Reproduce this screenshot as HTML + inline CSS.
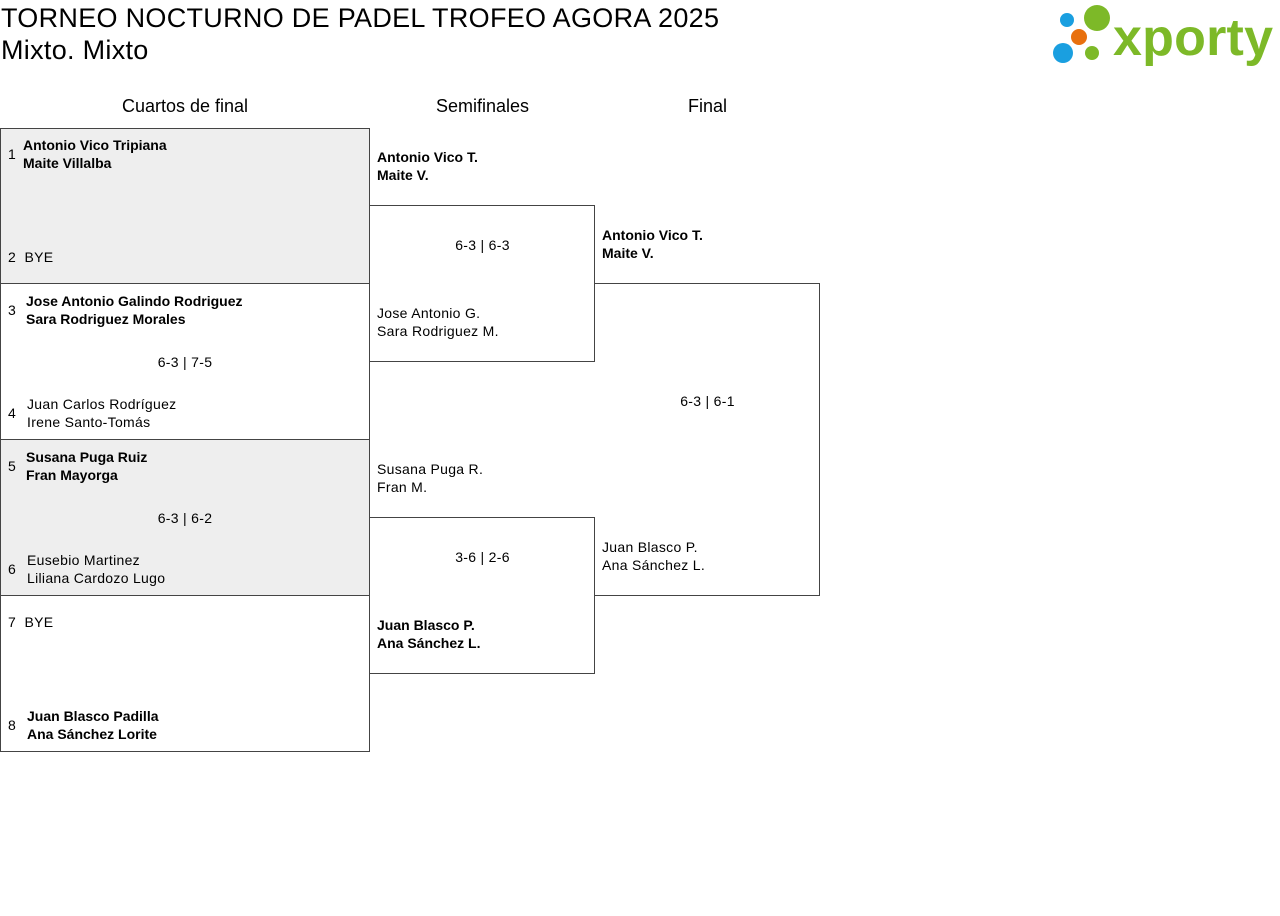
<!DOCTYPE html>
<html><head><meta charset="utf-8"><style>
body{margin:0;width:1280px;height:916px;background:#fff;font-family:"Liberation Sans",sans-serif;color:#000;position:relative;overflow:hidden}
.a{position:absolute;white-space:nowrap}
.box{position:absolute;border:1px solid #444;box-sizing:border-box}
.t{font-size:14px;line-height:18px;letter-spacing:0.3px}
.b{font-weight:bold;letter-spacing:0}
.h{font-size:18px;text-align:center}
</style></head><body>
<div class="a" style="left:1px;top:2px;font-size:27px;line-height:32px;letter-spacing:0.3px">TORNEO NOCTURNO DE PADEL TROFEO AGORA 2025<br>Mixto. Mixto</div>
<svg class="a" style="left:1050px;top:2px" width="228" height="66">
<circle cx="17" cy="18" r="7" fill="#1a9fe0"/><circle cx="47" cy="16" r="13" fill="#7db928"/>
<circle cx="29" cy="35" r="8" fill="#e8700e"/><circle cx="13" cy="51" r="10" fill="#1a9fe0"/>
<circle cx="42" cy="51" r="7" fill="#7db928"/>
<text x="63" y="53" font-family="Liberation Sans" font-weight="bold" font-size="52" fill="#7db928" textLength="160">xporty</text>
</svg>
<div class="a h" style="left:0;width:370px;top:96px">Cuartos de final</div>
<div class="a h" style="left:370px;width:225px;top:96px">Semifinales</div>
<div class="a h" style="left:595px;width:225px;top:96px">Final</div>

<div class="box" style="left:0;top:128px;width:370px;height:156px;background:#eee"></div>
<div class="box" style="left:0;top:283px;width:370px;height:157px"></div>
<div class="box" style="left:0;top:439px;width:370px;height:157px;background:#eee"></div>
<div class="box" style="left:0;top:595px;width:370px;height:157px"></div>
<div class="box" style="left:369px;top:205px;width:226px;height:157px;border-left:none"></div>
<div class="box" style="left:369px;top:517px;width:226px;height:157px;border-left:none"></div>
<div class="box" style="left:594px;top:283px;width:226px;height:313px;border-left:none"></div>

<div class="a t" style="left:8px;top:145px">1</div>
<div class="a t b" style="left:23px;top:136px">Antonio Vico Tripiana<br>Maite Villalba</div>
<div class="a t" style="left:8px;top:248px">2&nbsp;&nbsp;BYE</div>
<div class="a t" style="left:8px;top:301px">3</div>
<div class="a t b" style="left:26px;top:292px">Jose Antonio Galindo Rodriguez<br>Sara Rodriguez Morales</div>
<div class="a t" style="left:0;width:370px;text-align:center;top:353px">6-3 | 7-5</div>
<div class="a t" style="left:8px;top:404px">4</div>
<div class="a t" style="left:27px;top:395px">Juan Carlos Rodríguez<br>Irene Santo-Tomás</div>
<div class="a t" style="left:8px;top:457px">5</div>
<div class="a t b" style="left:26px;top:448px">Susana Puga Ruiz<br>Fran Mayorga</div>
<div class="a t" style="left:0;width:370px;text-align:center;top:509px">6-3 | 6-2</div>
<div class="a t" style="left:8px;top:560px">6</div>
<div class="a t" style="left:27px;top:551px">Eusebio Martinez<br>Liliana Cardozo Lugo</div>
<div class="a t" style="left:8px;top:613px">7&nbsp;&nbsp;BYE</div>
<div class="a t" style="left:8px;top:716px">8</div>
<div class="a t b" style="left:27px;top:707px">Juan Blasco Padilla<br>Ana Sánchez Lorite</div>

<div class="a t b" style="left:377px;top:148px">Antonio Vico T.<br>Maite V.</div>
<div class="a t" style="left:370px;width:225px;text-align:center;top:236px">6-3 | 6-3</div>
<div class="a t" style="left:377px;top:304px">Jose Antonio G.<br>Sara Rodriguez M.</div>
<div class="a t" style="left:377px;top:460px">Susana Puga R.<br>Fran M.</div>
<div class="a t" style="left:370px;width:225px;text-align:center;top:548px">3-6 | 2-6</div>
<div class="a t b" style="left:377px;top:616px">Juan Blasco P.<br>Ana Sánchez L.</div>

<div class="a t b" style="left:602px;top:226px">Antonio Vico T.<br>Maite V.</div>
<div class="a t" style="left:595px;width:225px;text-align:center;top:392px">6-3 | 6-1</div>
<div class="a t" style="left:602px;top:538px">Juan Blasco P.<br>Ana Sánchez L.</div>
</body></html>
